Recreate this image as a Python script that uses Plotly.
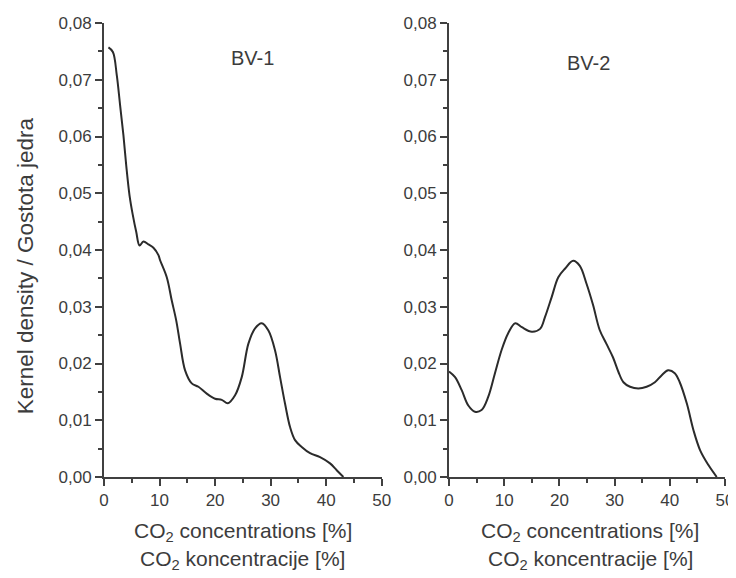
import plotly.graph_objects as go
from plotly.subplots import make_subplots

# BV-1 kernel density
bv1_x = [0.8, 1.6, 2.3, 2.9, 3.5, 4.0, 4.6, 5.2, 5.8, 6.4, 7.1, 8.0, 8.9, 9.8, 10.1,
         11.3, 12.2, 13.0, 13.7, 14.6, 15.8, 17.0, 18.5, 20.0, 21.2, 22.3, 23.6, 24.8,
         26.0, 27.2, 28.4, 29.6, 30.8, 31.7, 32.6, 33.5, 34.4, 35.6, 37.1, 38.9,
         40.7, 41.9, 43.1]
bv1_y = [0.0757, 0.0749, 0.0708, 0.0655, 0.0602, 0.0549, 0.0496, 0.0461, 0.0432, 0.0408,
         0.0415, 0.0410, 0.0404, 0.0391, 0.0382, 0.0352, 0.0311, 0.0276, 0.0235, 0.0188,
         0.0165, 0.0159, 0.0147, 0.0138, 0.0136, 0.0130, 0.0144, 0.0176, 0.0235,
         0.0262, 0.0271, 0.0258, 0.0223, 0.0176, 0.0129, 0.0088, 0.0065, 0.0053, 0.0042,
         0.0035, 0.0024, 0.0012, 0.0000]

# BV-2 kernel density
bv2_x = [0.0, 1.1, 2.3, 3.5, 4.7, 5.9, 7.1, 8.3, 9.5, 10.7, 12.0, 13.2, 15.0, 16.5, 17.4,
         18.6, 19.8, 21.0, 22.5, 23.7, 24.9, 26.1, 27.3, 28.5, 29.7, 30.7, 31.6, 32.8,
         34.3, 35.8, 37.3, 38.5, 39.7, 40.9, 41.8, 43.1, 44.3, 45.5, 47.0, 48.5]
bv2_y = [0.0186, 0.0176, 0.0153, 0.0126, 0.0115, 0.0118, 0.0141, 0.0182, 0.0223, 0.0253,
         0.0271, 0.0264, 0.0256, 0.0261, 0.0282, 0.0317, 0.0352, 0.0367, 0.0381, 0.0372,
         0.0341, 0.0303, 0.0259, 0.0235, 0.0211, 0.0185, 0.0167, 0.0159, 0.0156, 0.0159,
         0.0167, 0.0179, 0.0188, 0.0183, 0.0167, 0.0129, 0.0082, 0.0047, 0.0021, 0.0000]

panel_labels = ["BV-1", "BV-2"]
x_title_1 = "CO<sub>2</sub> concentrations [%]"
x_title_2 = "CO<sub>2</sub> koncentracije [%]"
y_title = "Kernel density / Gostota jedra"

# page body has an 8px default margin: the figure is drawn at (8, 8)
OFF = 8
W, H = 736 - OFF, 578 - OFF
L, R, T, B = 104 - OFF, 11, 22.7 - OFF, 101.3
pw, ph = W - L - R, H - T - B

def px(xp):  # window pixel -> paper fraction
    return (xp - OFF - L) / pw

def py(yp):
    return (H - B - (yp - OFF)) / ph

FONT = "Liberation Sans, Arial, sans-serif"
TXT = "#3c3c3c"
AX = "#404040"

fig = make_subplots(rows=1, cols=2)
fig.add_trace(go.Scatter(x=bv1_x, y=bv1_y, mode="lines", line=dict(color="#2b2b2b", width=2),
                         line_shape="spline", showlegend=False), row=1, col=1)
fig.add_trace(go.Scatter(x=bv2_x, y=bv2_y, mode="lines", line=dict(color="#2b2b2b", width=2),
                         line_shape="spline", showlegend=False), row=1, col=2)

xdoms = [[0, px(381.7)], [px(449), 1]]
for i, (xa, ya) in enumerate([("xaxis", "yaxis"), ("xaxis2", "yaxis2")]):
    fig.layout[xa].update(domain=xdoms[i], range=[0, 50], dtick=10, tick0=0,
                          showline=True, linecolor=AX, linewidth=2, ticks="outside",
                          ticklen=7, tickwidth=2, tickcolor=AX, showgrid=False, zeroline=False,
                          ticklabeloverflow="allow",
                          minor=dict(dtick=5, ticks="outside", ticklen=4, tickwidth=2, tickcolor=AX),
                          tickfont=dict(family=FONT, size=17, color=TXT))
    fig.layout[ya].update(domain=[0, 1], range=[0, 0.08], dtick=0.01, tick0=0, tickformat=".2f",
                          showline=True, linecolor=AX, linewidth=2, ticks="outside",
                          ticklen=7, tickwidth=2, tickcolor=AX, showgrid=False, zeroline=False,
                          ticklabeloverflow="allow",
                          minor=dict(dtick=0.005, ticks="outside", ticklen=4, tickwidth=2, tickcolor=AX),
                          tickfont=dict(family=FONT, size=17, color=TXT))

def ann(text, xp, yp, size, angle=0):
    return dict(text=text, x=px(xp), y=py(yp), xref="paper", yref="paper",
                xanchor="center", yanchor="middle", textangle=angle,
                showarrow=False, font=dict(family=FONT, size=size, color=TXT))

annotations = [
    ann(panel_labels[0], 252, 58, 20),
    ann(panel_labels[1], 588.5, 62.5, 20),
    ann(y_title, 25, 266, 22.5, -90),
]
for cx in (242.5, 590):
    annotations.append(ann(x_title_1, cx, 532, 21))
    annotations.append(ann(x_title_2, cx, 560, 21))

fig.update_layout(width=W, height=H, margin=dict(l=L, r=R, t=T, b=B, autoexpand=False),
                  paper_bgcolor="white", plot_bgcolor="white", separators=",.",
                  annotations=annotations, showlegend=False)

fig.write_html("out.html")
